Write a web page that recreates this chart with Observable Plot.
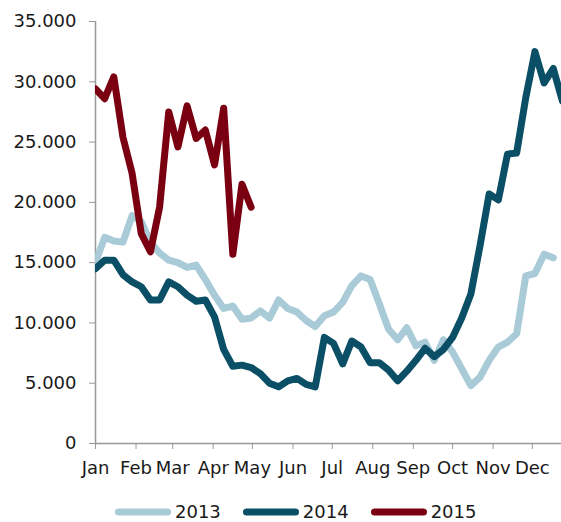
<!DOCTYPE html>
<html><head><meta charset="utf-8">
<script src="https://cdn.jsdelivr.net/npm/d3@7"></script>
<script src="https://cdn.jsdelivr.net/npm/@observablehq/plot@0.6"></script>
<style>
html,body{margin:0;padding:0;overflow:hidden;background:#fff;font-family:"DejaVu Sans",Verdana,sans-serif;}
#legend{display:flex;align-items:center;height:20px;line-height:20px;padding-left:115px;font-size:18px;color:#1a1a1a;}
.item{display:flex;align-items:center;margin-right:22px}
.item svg{margin-right:4px;display:block}
</style></head><body><div id="chart"></div><div id="legend"></div>
<script>
const monthLabels = ["Jan","Feb","Mar","Apr","May","Jun","Jul","Aug","Sep","Oct","Nov","Dec"];
const monthStartDays = [0,31,59,90,120,151,181,212,243,273,304,334];
const yTicks = [0,5000,10000,15000,20000,25000,30000,35000];
const years = ["2013","2014","2015"];
const colors = ["#a9cad7","#0b4f66","#7a0011"];

// weekly values (thousands)
const values2013 = [15.0,17.1,16.8,16.7,18.9,18.4,16.7,15.8,15.2,15.0,14.6,14.8,13.6,12.3,11.2,11.4,10.3,10.4,11.0,10.4,11.9,11.2,10.9,10.2,9.7,10.6,10.9,11.7,13.1,13.9,13.6,11.6,9.5,8.6,9.6,8.1,8.4,6.9,8.6,7.6,6.2,4.8,5.5,6.9,8.0,8.4,9.1,13.9,14.1,15.7,15.4];
const values2014 = [14.5,15.2,15.2,14.0,13.4,13.0,11.9,11.9,13.4,13.0,12.3,11.8,11.9,10.5,7.8,6.4,6.5,6.3,5.8,5.0,4.7,5.2,5.4,4.9,4.7,8.8,8.3,6.6,8.5,8.0,6.7,6.7,6.1,5.2,6.0,6.9,7.9,7.2,7.8,8.8,10.4,12.4,16.4,20.7,20.2,24.0,24.1,28.7,32.5,29.9,31.1,28.4];
const values2015 = [29.4,28.6,30.4,25.4,22.4,17.4,15.9,19.6,27.5,24.6,28.0,25.3,26.0,23.1,27.8,15.7,21.5,19.6];

const rows = [];
[values2013, values2014, values2015].forEach((vals, k) =>
  vals.forEach((v, i) => rows.push({year: years[k], day: i * 7, value: v * 1000})));

const fmt = d => d === 0 ? "0" : d3.format(",")(d).replace(/,/g, ".");

const plot = Plot.plot({
  width: 561, height: 502,
  marginTop: 21, marginBottom: 59, marginLeft: 95, marginRight: 0,
  style: {fontFamily: "'DejaVu Sans', Verdana, sans-serif", fontSize: "18px", color: "#1a1a1a", background: "white"},
  x: {type: "linear", domain: [0, 356.3]},
  y: {domain: [0, 35000]},
  color: {domain: years, range: colors},
  marks: [
    Plot.axisY({ticks: yTicks, tickSize: 6, tickPadding: 13, tickFormat: fmt, stroke: "#999", fill: "#1a1a1a", label: null}),
    Plot.axisX({ticks: monthStartDays, tickFormat: d => monthLabels[monthStartDays.indexOf(d)], tickSize: 6, tickPadding: 12, stroke: "#999", fill: "#1a1a1a", label: null}),
    Plot.ruleY([0], {stroke: "#999", strokeWidth: 1.5}),
    Plot.ruleX([0], {stroke: "#999", strokeWidth: 1.5}),
    Plot.line(rows, {x: "day", y: "value", z: "year", stroke: "year", strokeWidth: 7, strokeLinejoin: "round", strokeLinecap: "round", clip: true})
  ]
});
document.getElementById("chart").appendChild(plot);

const legend = document.getElementById("legend");
years.forEach((y, k) => {
  const item = document.createElement("div");
  item.className = "item";
  item.innerHTML = `<svg width="56" height="10"><line x1="3.5" y1="5" x2="52.5" y2="5" stroke="${colors[k]}" stroke-width="7" stroke-linecap="round"/></svg><span>${y}</span>`;
  legend.appendChild(item);
});
</script></body></html>
